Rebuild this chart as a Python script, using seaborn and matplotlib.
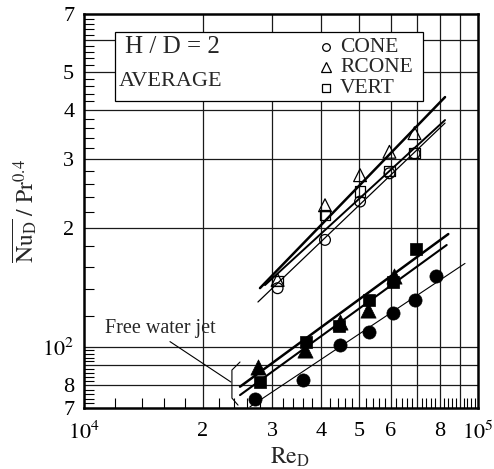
import numpy as np
import pandas as pd
import matplotlib
matplotlib.use("Agg")
import matplotlib.pyplot as plt
import seaborn as sns
from matplotlib.ticker import FixedLocator, FixedFormatter, NullFormatter
from matplotlib.patches import Rectangle

# ---------------- data ----------------
# open symbols (upper group)
cone_re = [31000, 40900, 50200, 59600, 69000]
cone_nu = [141, 187, 234, 276, 310]
rcone_re = [31000, 40900, 50200, 59600, 69000]
rcone_nu = [148, 229, 273, 313, 349]
vert_re = [31000, 40900, 50200, 59600, 69000]
vert_nu = [147, 216, 248, 280, 311]

# filled symbols (lower group, free water jet)
jet_cone_re = [27200, 36000, 44600, 53000, 60900, 69300, 78200]
jet_cone_nu = [74, 82.5, 101, 109, 122, 131.6, 151]
jet_rcone_re = [27700, 36400, 44600, 52700, 61200]
jet_rcone_nu = [89, 98, 116, 124, 151]
jet_vert_re = [28050, 36700, 44500, 53000, 60900, 69600]
jet_vert_nu = [81.6, 103, 113, 131.6, 146, 177]

# fitted lines (end points)
fit_rcone_re = [27970, 82480]
fit_rcone_nu = [141.1, 430.9]
fit_vert_re = [28800, 82480]
fit_vert_nu = [143.6, 376.8]
fit_cone_re = [27640, 82480]
fit_cone_nu = [130.1, 370.2]
fit_jet_vert_re = [24890, 84070]
fit_jet_vert_nu = [79.3, 193.5]
fit_jet_rcone_re = [24890, 83280]
fit_jet_rcone_nu = [75.5, 181.5]
fit_jet_cone_re = [26380, 92690]
fit_jet_cone_nu = [70.5, 163]

# ticks
x_major = [1e4, 2e4, 3e4, 4e4, 5e4, 6e4, 7e4, 8e4, 9e4, 1e5]
x_labels = [r'$10^4$', '2', '3', '4', '5', '6', '', '8', '', r'$10^5$']
y_major = [70, 80, 90, 100, 200, 300, 400, 500, 600, 700]
y_labels = ['7', '8', '', r'$10^2$', '2', '3', '4', '5', '', '7']

# ---------------- style ----------------
sns.set_theme(style="white")
plt.rcParams['font.family'] = ['Liberation Serif', 'DejaVu Serif']
plt.rcParams['mathtext.fontset'] = 'stix'

fig = plt.figure(figsize=(4.94, 4.69), dpi=100)
ax = fig.add_axes([0.170, 0.130, 0.7976, 0.840])
ax.set_xscale('log')
ax.set_yscale('log')
ax.set_xlim(1e4, 1e5)
ax.set_ylim(70, 700)

# grid (only at the major positions inside)
for xv in x_major[1:-1]:
    ax.axvline(xv, color='#1a1a1a', lw=0.9, zorder=1)
for yv in y_major[1:-1]:
    ax.axhline(yv, color='#1a1a1a', lw=0.9, zorder=1)

def line(xs, ys, lw):
    d = pd.DataFrame({'Re': xs, 'Nu': ys})
    sns.lineplot(data=d, x='Re', y='Nu', ax=ax, color='black', lw=lw,
                 estimator=None, sort=False, zorder=3)

line(fit_rcone_re, fit_rcone_nu, 1.8)
line(fit_vert_re, fit_vert_nu, 1.4)
line(fit_cone_re, fit_cone_nu, 0.9)
line(fit_jet_vert_re, fit_jet_vert_nu, 1.8)
line(fit_jet_rcone_re, fit_jet_rcone_nu, 1.5)
line(fit_jet_cone_re, fit_jet_cone_nu, 0.8)

def pts(xs, ys, marker, s, filled):
    d = pd.DataFrame({'Re': xs, 'Nu': ys})
    if filled:
        sns.scatterplot(data=d, x='Re', y='Nu', ax=ax, marker=marker, s=s,
                        color='black', edgecolor='black', linewidth=0.5,
                        legend=False, zorder=4)
    else:
        sns.scatterplot(data=d, x='Re', y='Nu', ax=ax, marker=marker, s=s,
                        facecolor='none', edgecolor='black', linewidth=0.9,
                        legend=False, zorder=4)

pts(cone_re, cone_nu, 'o', 60, False)
pts(rcone_re, rcone_nu, '^', 85, False)
pts(vert_re, vert_nu, 's', 55, False)
pts(jet_cone_re, jet_cone_nu, 'o', 90, True)
pts(jet_rcone_re, jet_rcone_nu, '^', 120, True)
pts(jet_vert_re, jet_vert_nu, 's', 80, True)

# ticks
ax.xaxis.set_major_locator(FixedLocator(x_major))
ax.xaxis.set_major_formatter(FixedFormatter(x_labels))
ax.yaxis.set_major_locator(FixedLocator(y_major))
ax.yaxis.set_major_formatter(FixedFormatter(y_labels))
x_minor = [v * 1000 for v in range(12, 100, 2) if v % 10 != 0]
y_minor = ([v for v in range(72, 100, 2) if v not in (80, 90)] +
           [v for v in range(120, 700, 20) if v % 100 != 0])
ax.xaxis.set_minor_locator(FixedLocator(x_minor))
ax.yaxis.set_minor_locator(FixedLocator(y_minor))
ax.xaxis.set_minor_formatter(NullFormatter())
ax.yaxis.set_minor_formatter(NullFormatter())
ax.tick_params(which='major', direction='in', length=0, labelsize=16,
               colors='black', pad=7)
ax.tick_params(which='minor', direction='in', length=7.5, width=0.8,
               colors='black', bottom=True, left=True, top=False, right=False)
ax.tick_params(axis='x', which='major', pad=10)

for sp in ax.spines.values():
    sp.set_linewidth(1.8)
    sp.set_color('black')
    sp.set_zorder(6)

ax.set_xlabel(r'$\mathrm{Re}_{\mathrm{D}}$', fontsize=17)
ax.xaxis.set_label_coords(0.523, -0.095)
ax.set_ylabel(r'$\overline{\mathrm{Nu}_{\mathrm{D}}}\ /\ \mathrm{Pr}^{0.4}$', fontsize=17)
ax.yaxis.set_label_coords(-0.115, 0.5)

# legend box
ax.add_patch(Rectangle((0.0787, 0.779), 0.781, 0.175, transform=ax.transAxes,
                       facecolor='white', edgecolor='black', lw=0.9, zorder=5))
ax.text(0.104, 0.916, 'H / D = 2', transform=ax.transAxes, fontsize=18,
        va='center', ha='left', zorder=6)
ax.text(0.089, 0.830, 'AVERAGE', transform=ax.transAxes, fontsize=16,
        va='center', ha='left', zorder=6)
leg_items = [('o', 'CONE', 0.916, 5.5), ('^', 'RCONE', 0.865, 6.5), ('s', 'VERT', 0.812, 5.5)]
for m, lab, yy, ms in leg_items:
    ax.plot([0.614], [yy], marker=m, ms=ms, mfc='none', mec='black', mew=0.9,
            transform=ax.transAxes, zorder=6, ls='none')
    ax.text(0.650, yy, lab, transform=ax.transAxes, fontsize=15.5,
            va='center', ha='left', zorder=6)

# free water jet annotation
ax.text(11300, 111.7, 'Free water jet', fontsize=14.5, va='center', ha='left', zorder=6)
ax.plot([16530, 23600], [103.2, 81.5], color='black', lw=0.8, zorder=3)
ax.plot([24890, 23740, 23740, 24600], [91.6, 87.4, 74.2, 71.2],
        color='black', lw=0.8, zorder=3)

fig.savefig('out.png', dpi=100)
